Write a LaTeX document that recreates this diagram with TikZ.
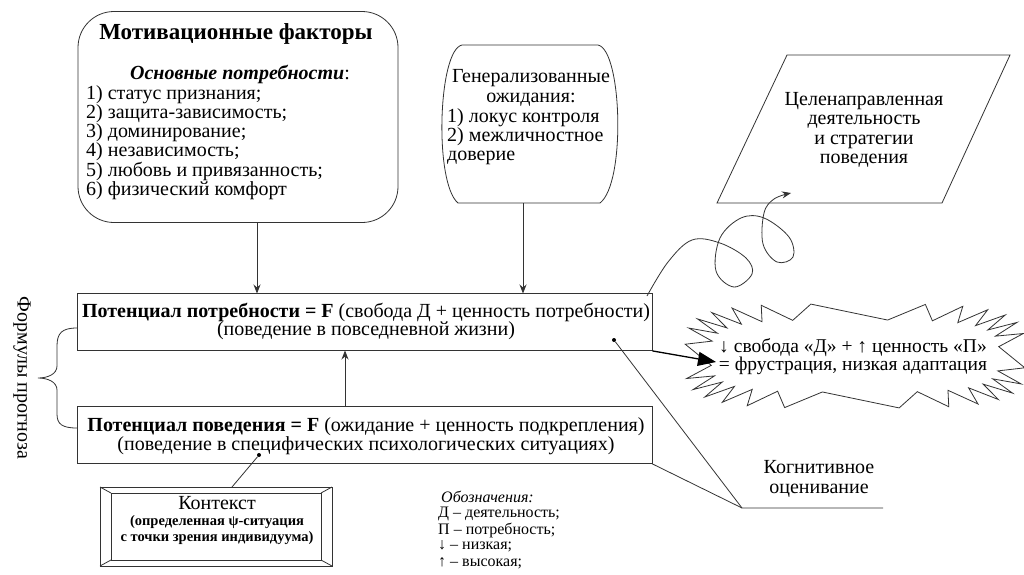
\documentclass[tikz,border=0pt]{standalone}
\usepackage{fontspec}
\setmainfont{Liberation Serif}
\usetikzlibrary{arrows.meta,calc}
\tikzset{
  ln/.style={line width=0.8pt, draw=black!80},
  arr/.style={ln, -{Stealth[length=9pt,width=7pt]}},
  txt/.style={font=\fontsize{20}{19.3}\selectfont, inner sep=0pt},
  lst/.style={txt, align=left, anchor=north west},
  leg/.style={font=\fontsize{16}{16.5}\selectfont, inner sep=0pt, anchor=west},
  fbox/.style={ln, draw, minimum width=575pt, minimum height=57pt, inner sep=0pt},
  dot/.style={circle, fill=black, inner sep=0pt, minimum size=4pt}
}
\begin{document}
\begin{tikzpicture}[x=1pt,y=-1pt]
\useasboundingbox (0,0) rectangle (1024,574);
\fill[white] (0,0) rectangle (1024,574);

% Box 1: motivational factors
\node[ln, draw, rounded corners=36pt, minimum width=320pt, minimum height=211pt] (mot) at (238,117) {};
\node[txt, font=\bfseries\fontsize{23}{26}\selectfont] (motT) at (236,34) {Мотивационные факторы};
\node[txt] (motS) at (240,74) {\textbf{\textit{Основные потребности}}:};
\node[lst] (motL) at (86,85) {1) статус признания;\\2) защита-зависимость;\\3) доминирование;\\4) независимость;\\5) любовь и привязанность;\\6) физический комфорт};

% Box 2: generalized expectations
\draw[ln] (462,45) -- (598,45) .. controls (622,50) and (626,183) .. (600,203) -- (458,203) .. controls (434,183) and (438,50) .. (462,45);
\coordinate (gen) at (529,124);
\coordinate (genB) at (523,203);
\node[txt, align=center] (genT) at (531,88) {Генерализованные\\ожидания:};
\node[lst] (genL) at (447,108) {1) локус контроля\\2) межличностное\\доверие};

% Parallelogram
\draw[ln] (787,55) -- (1010,55) -- (942,203) -- (717,203) -- cycle;
\coordinate (goal) at (864,129);
\node[txt, align=center] (goalT) at (864,130) {Целенаправленная\\деятельность\\и стратегии\\поведения};

% Formula boxes
\node[fbox] (need) at (364.5,322) {};
\node[txt] (needA) at (366,312) {\textbf{Потенциал потребности = F} (свобода Д + ценность потребности)};
\node[txt] (needB) at (366,331) {(поведение в повседневной жизни)};
\node[fbox] (beh) at (364.5,435) {};
\node[txt] (behA) at (366,427) {\textbf{Потенциал поведения = F} (ожидание + ценность подкрепления)};
\node[txt] (behB) at (366,446) {(поведение в специфических психологических ситуациях)};

% Arrows into upper box
\draw[arr] (257,222.5) -- (257,293.5);
\draw[arr] (genB) -- (523,293.5);
\draw[arr] (345,406.5) -- (345,350.5);

% Brace + rotated label
\draw[ln] (77,328) .. controls (62,328) and (57,333) .. (57,346) -- (57,366)
  .. controls (57,374) and (48,378) .. (38,378)
  .. controls (48,378) and (57,382) .. (57,390) -- (57,414)
  .. controls (57,424) and (62,428) .. (77,428);
\node[txt, rotate=-90] (form) at (22,378) {Формулы прогноза};

% Starburst (squarish ellipse with spikes)
\draw[ln, fill=white] plot[samples at={0,...,51}]
  ({855+ifthenelse(mod(\x,2)==0,170,144)*cos(\x*6.9231+3)/sqrt(abs(cos(\x*6.9231+3))+0.001)},
   {356+ifthenelse(mod(\x,2)==0,52,36)*sin(\x*6.9231+3)/sqrt(abs(sin(\x*6.9231+3))+0.001)}) -- cycle;
\coordinate (burst) at (855,356);
\node[txt, font=\fontsize{19.5}{19}\selectfont] (burstA) at (853,348) {↓ свобода «Д» + ↑ ценность «П»};
\node[txt, font=\fontsize{19.5}{19}\selectfont] (burstB) at (853,366) {= фрустрация, низкая адаптация};

% Thick arrow into starburst
\draw[line width=1.3pt, -{Triangle[length=18pt,width=14pt]}] (need.south east) -- (716,362);

% Squiggle to goal
\draw[arr] plot[smooth, tension=0.6] coordinates {(647,296) (668,262) (692,240) (720,243) (746,258) (752,274) (734,287) (716,271) (720,238) (741,218) (764,218) (789,237) (793,257) (777,262) (763,244) (764,213) (774,199) (791,193)};

% Cognitive appraisal
\node[dot] (d1) at (614,340) {};
\coordinate (cog) at (742,508);
\coordinate (cogE) at (883,508);
\draw[ln] (d1) -- (cog) -- (cogE);
\draw[ln] (beh.south east) -- (cog);
\node[txt, align=center] (cogT) at (819,479) {Когнитивное\\оценивание};

% Context box
\node[dot] (d2) at (259,455) {};
\draw[ln] (100,487) rectangle (332,566);
\draw[ln] (111,493) rectangle (321,560);
\draw[ln] (100,487) -- (111,493) (332,487) -- (321,493) (100,566) -- (111,560) (332,566) -- (321,560);
\coordinate (ctx) at (232,487);
\draw[ln] (d2) -- (ctx);
\node[txt] (ctxT) at (217,503) {Контекст};
\node[inner sep=0pt, align=center, font=\bfseries\fontsize{14.5}{15.5}\selectfont] (ctxS) at (217,530) {(определенная ψ-ситуация\\с точки зрения индивидуума)};

% Legend
\node[leg] (leg0) at (441,497) {\textit{Обозначения:}};
\node[leg] (leg1) at (438,513.5) {Д – деятельность;};
\node[leg] (leg2) at (438,530) {П – потребность;};
\node[leg] (leg3) at (438,546.5) {↓ – низкая;};
\node[leg] (leg4) at (438,563) {↑ – высокая;};
\end{tikzpicture}
\end{document}
